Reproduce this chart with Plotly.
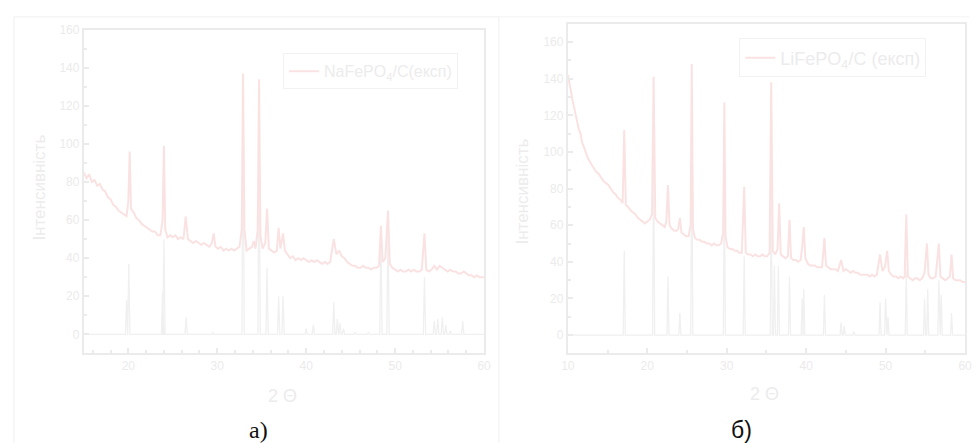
import plotly.graph_objects as go

# ---------------- data: NaFePO4/C (panel а) ----------------
na_exp_x = [15.0,15.3,15.6,15.9,16.2,16.5,16.8,17.1,17.4,17.7,18.0,18.3,18.6,18.9,19.2,19.5,19.8,20.0,20.15,20.3,
            20.6,20.9,21.2,21.5,21.8,22.1,22.4,22.7,23.0,23.3,23.6,23.85,24.0,24.15,24.4,24.7,25.0,25.3,25.6,25.9,
            26.2,26.45,26.7,27.0,27.3,27.6,27.9,28.2,28.5,28.8,29.1,29.4,29.6,29.8,30.1,30.4,30.7,31.0,31.3,31.6,
            31.9,32.2,32.5,32.75,32.9,33.05,33.3,33.6,33.9,34.1,34.3,34.55,34.7,34.85,35.1,35.4,35.6,35.8,36.1,36.4,
            36.7,36.9,37.1,37.4,37.6,37.9,38.2,38.5,38.8,39.1,39.4,39.7,40.0,40.3,40.6,40.9,41.2,41.5,41.8,42.1,
            42.4,42.7,43.1,43.4,43.7,44.0,44.3,44.6,44.9,45.2,45.5,45.8,46.1,46.4,46.7,47.0,47.3,47.6,47.9,48.2,
            48.4,48.6,48.9,49.2,49.4,49.7,50.0,50.3,50.6,50.9,51.2,51.5,51.8,52.1,52.4,52.7,53.0,53.3,53.5,53.8,
            54.1,54.4,54.7,55.0,55.3,55.6,55.9,56.2,56.5,56.8,57.1,57.4,57.7,58.0,58.3,58.6,58.9,59.2,59.5,59.8,60.0]
na_exp_y = [85,82,84,80,81,78,79,76,75,72,71,68,67,65,64,63,62,70,96,66,
            64,61,60,58,57,56,55,54,54,52,52,60,99,55,51,52,51,52,50,51,
            50,62,50,49,48,49,48,47,48,47,46,48,53,46,45,46,44,45,44,45,
            44,45,46,55,137,55,44,45,46,49,45,55,134,52,45,48,66,45,44,43,
            44,56,45,53,44,42,40,41,39,40,39,40,39,38,39,38,39,38,37,38,
            37,38,50,42,44,41,40,38,37,36,36,35,35,36,35,35,34,35,35,36,
            57,38,40,65,37,35,34,33,34,33,33,34,33,34,33,33,34,53,34,33,
            34,36,34,36,35,34,33,34,33,33,32,32,33,32,31,31,30,31,30,30,30]
na_ref_pos = [19.8,20.05,23.85,24.0,26.5,29.5,32.9,34.7,35.6,36.9,37.4,40.0,40.8,43.1,43.5,43.8,44.2,
              45.5,47.0,48.4,49.2,53.3,54.4,54.8,55.3,55.7,56.2,57.6]
na_ref_h = [18,37,22,50,9,1,125,110,35,20,20,3,5,17,8,6,3,1,1,55,62,30,7,8,9,5,2,7]

# ---------------- data: LiFePO4/C (panel б) ----------------
li_exp_x = [10.0,10.2,10.4,10.6,10.8,11.0,11.2,11.4,11.6,11.8,12.0,12.2,12.4,12.6,12.8,13.0,13.3,13.6,13.9,14.2,
            14.5,14.8,15.1,15.4,15.7,16.0,16.3,16.6,16.9,17.1,17.3,17.6,17.9,18.2,18.5,18.8,19.1,19.4,19.7,20.0,
            20.3,20.6,20.8,21.0,21.3,21.6,21.9,22.2,22.4,22.6,22.8,23.1,23.4,23.7,23.9,24.1,24.3,24.6,24.9,25.2,
            25.45,25.6,25.75,26.0,26.3,26.6,26.9,27.2,27.5,27.8,28.1,28.4,28.7,29.0,29.3,29.55,29.7,29.85,30.1,30.4,
            30.7,31.0,31.3,31.6,31.9,32.2,32.4,32.7,33.0,33.3,33.6,33.9,34.2,34.5,34.8,35.1,35.4,35.6,35.8,36.1,
            36.4,36.6,36.8,37.1,37.4,37.7,37.9,38.1,38.4,38.7,39.0,39.3,39.5,39.7,39.9,40.2,40.5,40.8,41.1,41.4,
            41.7,42.0,42.3,42.5,42.8,43.1,43.4,43.7,44.0,44.4,44.7,45.0,45.3,45.6,45.9,46.2,46.5,46.8,47.1,47.4,
            47.7,48.0,48.3,48.6,48.9,49.3,49.6,49.9,50.2,50.4,50.7,51.0,51.3,51.6,51.9,52.2,52.4,52.6,52.8,53.1,
            53.4,53.7,54.0,54.3,54.6,54.9,55.2,55.4,55.7,56.0,56.3,56.7,56.9,57.2,57.5,57.8,58.1,58.3,58.5,58.8,
            59.1,59.4,59.7,60.0]
li_exp_y = [142,138,133,128,124,120,116,112,110,105,103,100,98,96,94,93,91,89,88,86,
            84,83,82,80,78,77,75,74,72,112,71,70,68,67,66,64,63,62,61,62,
            63,66,141,64,62,61,60,59,62,82,60,58,57,57,58,64,56,55,54,54,
            60,148,58,53,52,52,51,51,50,50,49,50,49,49,50,56,127,54,48,47,
            47,46,46,45,45,81,45,44,44,43,44,43,43,44,43,43,45,138,46,44,
            47,72,44,43,42,43,63,42,41,41,40,41,48,59,42,39,38,38,38,37,
            37,37,53,38,37,36,36,36,35,41,35,36,35,34,35,34,34,33,33,33,
            33,32,33,32,33,44,35,37,46,35,33,32,32,31,32,31,32,66,32,31,
            30,31,31,30,31,34,50,33,31,31,32,50,32,31,30,31,32,44,31,30,
            30,30,29,29]
li_ref_pos = [17.1,20.8,22.6,24.1,25.6,29.7,32.2,35.6,36.0,36.5,37.9,39.5,39.7,42.3,44.4,44.8,46.0,
              49.3,50.0,50.3,52.6,54.9,55.3,56.7,57.0,58.3]
li_ref_h = [46,105,32,12,110,85,43,80,38,38,32,20,25,22,7,5,2,18,20,10,35,20,25,30,22,12]

x_ticks_a = [20, 30, 40, 50, 60]
x_ticks_b = [10, 20, 30, 40, 50, 60]
y_ticks = [0, 20, 40, 60, 80, 100, 120, 140, 160]


def stick_pattern(pos, h, xmin, xmax, w=0.13):
    xs, ys = [xmin], [0]
    for p, v in zip(pos, h):
        xs += [p - w, p, p + w]
        ys += [0, v, 0]
    xs.append(xmax)
    ys.append(0)
    return xs, ys


RED = "#fbe2e2"
GREY = "#f0f0f0"
AX = "#ebebeb"
TXT = "#ebebeb"
W, H = 976, 443

fig = go.Figure()
rx, ry = stick_pattern(na_ref_pos, na_ref_h, 15, 60)
fig.add_trace(go.Scatter(x=rx, y=ry, mode="lines", line=dict(color=GREY, width=1.3),
                         showlegend=False, xaxis="x", yaxis="y", hoverinfo="skip"))
fig.add_trace(go.Scatter(x=na_exp_x, y=na_exp_y, mode="lines", line=dict(color=RED, width=2),
                         name="NaFePO<sub>4</sub>/C(експ)", xaxis="x", yaxis="y", legend="legend"))
rx, ry = stick_pattern(li_ref_pos, li_ref_h, 10, 60)
fig.add_trace(go.Scatter(x=rx, y=ry, mode="lines", line=dict(color=GREY, width=1.3),
                         showlegend=False, xaxis="x2", yaxis="y2", hoverinfo="skip"))
fig.add_trace(go.Scatter(x=li_exp_x, y=li_exp_y, mode="lines", line=dict(color=RED, width=2),
                         name="LiFePO<sub>4</sub>/C (експ)", xaxis="x2", yaxis="y2", legend="legend2"))

common = dict(showline=True, mirror=True, linecolor=AX, linewidth=2, showgrid=False, zeroline=False,
              ticks="inside", ticklen=5, tickcolor=AX, tickwidth=1.5,
              tickfont=dict(family="Liberation Sans, Arial", size=12, color=TXT),
              minor=dict(ticks="inside", ticklen=3, tickcolor=AX))

fig.update_layout(
    width=W, height=H, margin=dict(l=0, r=0, t=0, b=0),
    paper_bgcolor="white", plot_bgcolor="white",
    xaxis=dict(domain=[78 / W, 484 / W], range=[15, 60], tickvals=x_ticks_a, anchor="y", **common),
    yaxis=dict(domain=[(H - 352) / H, (H - 23) / H], range=[-10, 160], tickvals=y_ticks, anchor="x", **common),
    xaxis2=dict(domain=[569 / W, 972 / W], range=[10, 60], tickvals=x_ticks_b, anchor="y2", **common),
    yaxis2=dict(domain=[(H - 352) / H, (H - 17) / H], range=[-10, 170], tickvals=y_ticks, anchor="x2", **common),
    legend=dict(x=280 / W, y=(H - 47) / H, xanchor="left", yanchor="top", bgcolor="rgba(255,255,255,0)",
                bordercolor="#f2f2f2", borderwidth=1,
                font=dict(family="Liberation Sans, Arial", size=16, color="#ececec")),
    legend2=dict(x=743 / W, y=(H - 32) / H, xanchor="left", yanchor="top", bgcolor="rgba(255,255,255,0)",
                 bordercolor="#f2f2f2", borderwidth=1,
                 font=dict(family="Liberation Sans, Arial", size=18, color="#ececec")),
    shapes=[
        dict(type="rect", xref="paper", yref="paper", x0=7 / W, x1=499 / W, y0=-0.01, y1=(H - 10) / H,
             line=dict(color="#f0f0f0", width=1)),
        dict(type="line", xref="paper", yref="paper", x0=499 / W, x1=1, y0=(H - 10) / H, y1=(H - 10) / H,
             line=dict(color="#f3f3f3", width=1)),
    ],
)

ann_font = dict(family="Liberation Sans, Arial", color="#ececec")
annotations = [
    dict(text="Інтенсивність", x=33 / W, y=(H - 184) / H, textangle=-90, font=dict(size=17, **ann_font)),
    dict(text="Інтенсивність", x=523 / W, y=(H - 187) / H, textangle=-90, font=dict(size=17, **ann_font)),
    dict(text="2 Θ", x=280 / W, y=(H - 395) / H, font=dict(size=18, **ann_font)),
    dict(text="2 Θ", x=769 / W, y=(H - 393) / H, font=dict(size=18, **ann_font)),
    dict(text="а)", x=255 / W, y=(H - 430) / H, font=dict(family="Liberation Serif, Times New Roman", size=24, color="#111111")),
    dict(text="б)", x=745 / W, y=(H - 430) / H, font=dict(family="Liberation Sans, Arial", size=23, color="#111111")),
]
for a in annotations:
    a.update(xref="paper", yref="paper", showarrow=False, xanchor="center", yanchor="middle")
fig.update_layout(annotations=annotations)

fig.write_html("out.html")
